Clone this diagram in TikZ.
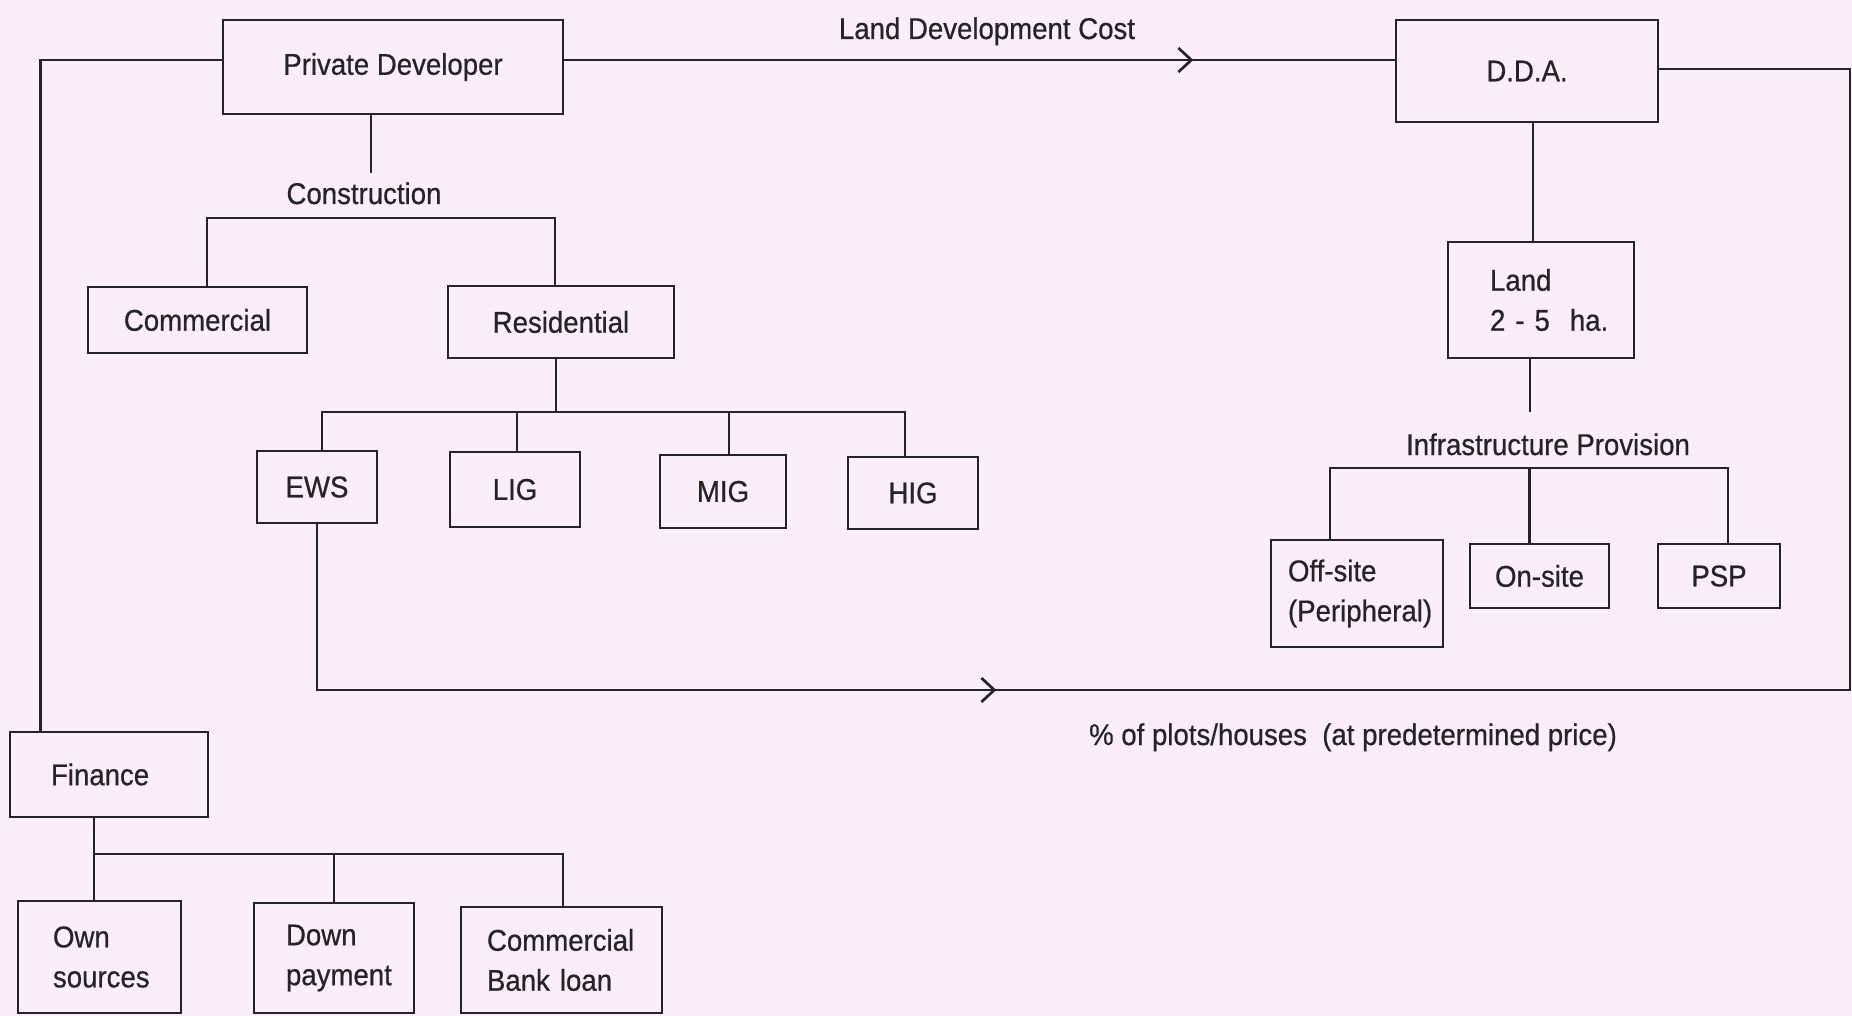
\documentclass[tikz,border=0pt]{standalone}
\usepackage{fontspec}
\setmainfont{Liberation Sans}[FakeStretch=0.92,FakeBold=0.6]
\usetikzlibrary{arrows.meta,decorations.markings}
\definecolor{bg}{RGB}{249,237,247}
\definecolor{ink}{RGB}{38,35,38}
\begin{document}
\begin{tikzpicture}[x=1pt,y=-1pt,
  every node/.style={font=\fontsize{30}{40}\selectfont, text=ink},
  box/.style={draw=ink, line width=2.7pt, inner sep=0pt},
  lab/.style={inner sep=0pt, anchor=base},
  conn/.style={draw=ink, line width=2.7pt},
  midarr/.style={postaction={decorate}, decoration={markings, mark=at position #1 with {\arrow{Straight Barb[length=13pt,width=24pt]}}}}]
\fill[bg] (0,0) rectangle (1852,1016);
\useasboundingbox (0,0) rectangle (1852,1016);

% boxes
\node[box, minimum width=340pt, minimum height=94pt] (pd) at (393,67) {Private Developer};
\node[box, minimum width=262pt, minimum height=102pt] (dda) at (1527,71) {D.D.A.};
\node[box, minimum width=186pt, minimum height=116pt, text width=102pt, inner xsep=42pt, align=left] (land) at (1541,300) {\mbox{Land}\\\mbox{2 - 5\ \ ha.}};
\node[box, minimum width=219pt, minimum height=66pt] (com) at (197.5,320) {Commercial};
\node[box, minimum width=226pt, minimum height=72pt] (res) at (561,322) {Residential};
\node[box, minimum width=120pt, minimum height=72pt] (ews) at (317,487) {EWS};
\node[box, minimum width=130pt, minimum height=75pt] (lig) at (515,489.5) {LIG};
\node[box, minimum width=126pt, minimum height=73pt] (mig) at (723,491.5) {MIG};
\node[box, minimum width=130pt, minimum height=72pt] (hig) at (913,493) {HIG};
\node[box, minimum width=172pt, minimum height=107pt, text width=138pt, inner xsep=17pt, align=left] (off) at (1357,593.5) {\mbox{Off-site}\\\mbox{(Peripheral)}};
\node[box, minimum width=139pt, minimum height=64pt] (on) at (1539.5,576) {On-site};
\node[box, minimum width=122pt, minimum height=64pt] (psp) at (1719,576) {PSP};
\node[box, minimum width=198pt, minimum height=85pt, text width=116pt, inner xsep=41pt, align=left] (fin) at (109,774.5) {Finance};
\node[box, minimum width=163pt, minimum height=112pt, text width=93pt, inner xsep=35pt, align=left] (own) at (99.5,957) {\mbox{Own}\\\mbox{sources}};
\node[box, minimum width=160pt, minimum height=110pt, text width=96pt, inner xsep=32pt, align=left] (down) at (334,958) {\mbox{Down}\\\mbox{payment}};
\node[box, minimum width=201pt, minimum height=106pt, text width=149pt, inner xsep=26pt, align=left] (cbl) at (561.5,960) {\mbox{Commercial}\\\mbox{Bank loan}};

% labels
\node[lab] (cons) at (364,204) {Construction};
\node[lab] (ldc) at (987,39) {Land Development Cost};
\node[lab] (infra) at (1548,455) {Infrastructure Provision};
\node[lab] (pct) at (1353,745) {\% of plots/houses\ \ (at predetermined price)};

% coordinates
\coordinate (pdend) at (371,173);
\coordinate (cl) at (207,218);
\coordinate (cr) at (555,218);
\coordinate (rl) at (322,412);
\coordinate (rr) at (905,412);
\coordinate (lend) at (1530,412);
\coordinate (il) at (1330,468);
\coordinate (ir) at (1728,468);
\coordinate (fl) at (94,854);
\coordinate (fr) at (563,854);
\coordinate (rc) at (1850,690);

% connectors
\draw[conn] ([yshift=7pt]pd.west) -| ([xshift=32pt]fin.north west);
\draw[conn, midarr=629pt] ([yshift=7pt]pd.east) -- ([yshift=7pt]pd.east -| dda.west);
\draw[conn, midarr=845pt] (ews.south) |- (rc) |- ([yshift=2pt]dda.east);
\draw[conn] (pdend |- pd.south) -- (pdend);
\draw[conn] (cl |- com.north) -- (cl) -- (cr) -- (cr |- res.north);
\draw[conn] ([xshift=-5pt]res.south) -- ([xshift=-5pt]res.south |- rl);
\draw[conn] (rl |- ews.north) -- (rl) -- (rr) -- (rr |- hig.north);
\draw[conn] ([xshift=2pt]lig.north) -- ([xshift=2pt]lig.north |- rl);
\draw[conn] ([xshift=6pt]mig.north) -- ([xshift=6pt]mig.north |- rl);
\draw[conn] ([xshift=6pt]dda.south) -- ([xshift=6pt]dda.south |- land.north);
\draw[conn] (lend |- land.south) -- (lend);
\draw[conn] (il |- off.north) -- (il) -- (ir) -- (ir |- psp.north);
\draw[conn] ([xshift=-10pt]on.north) -- ([xshift=-10pt]on.north |- il);
\draw[conn] (fl |- fin.south) -- (fl |- own.north);
\draw[conn] (fl) -- (fr) -- (fr |- cbl.north);
\draw[conn] (down.north) -- (down.north |- fl);
\end{tikzpicture}
\end{document}
